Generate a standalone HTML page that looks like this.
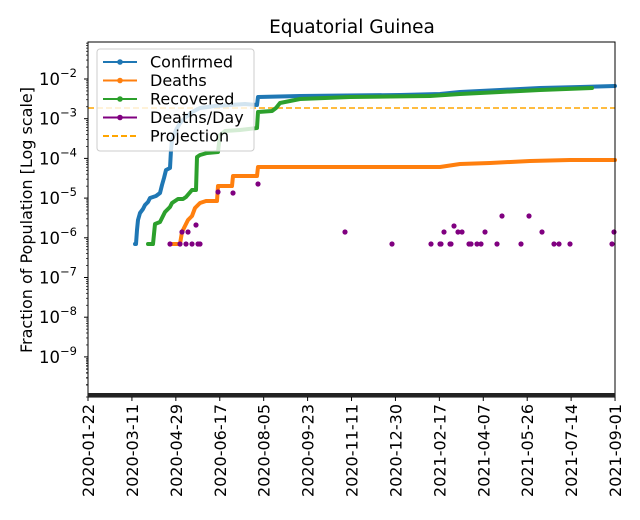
<!DOCTYPE html>
<html><head><meta charset="utf-8"><style>
html,body{margin:0;padding:0;background:#fff;width:640px;height:520px;overflow:hidden}
text{font-family:"DejaVu Sans","Liberation Sans",sans-serif;fill:#000}
</style></head><body>
<svg id="s" width="640" height="520" xmlns="http://www.w3.org/2000/svg">
<rect width="640" height="520" fill="#fff"/>
<text x="352" y="33" font-size="18.5" text-anchor="middle">Equatorial Guinea</text>
<g id="plot"></g>
<rect x="88" y="42" width="527" height="355" fill="none" stroke="#000" stroke-width="1"/>
<rect x="88" y="393" width="527" height="4" fill="#222"/>
<text transform="translate(32,220) rotate(-90)" font-size="16" text-anchor="middle">Fraction of Population [Log scale]</text>
<g id="yl" font-size="16.5"></g>
<g id="xl" font-size="16"></g>
<g id="leg"></g>
</svg>
<script>
const NS="http://www.w3.org/2000/svg";
function el(p,t,a,txt){const e=document.createElementNS(NS,t);for(const k in a)e.setAttribute(k,a[k]);if(txt!==undefined)e.textContent=txt;p.appendChild(e);return e;}
const plot=document.getElementById('plot'),yl=document.getElementById('yl'),xl=document.getElementById('xl'),leg=document.getElementById('leg');
for(let i=2;i<=9;i++){const y=79+(i-2)*39.7;
 el(plot,'line',{x1:84,x2:88,y1:y,y2:y,stroke:'#000'});
 const t=el(yl,'text',{x:39,y:y+6},'10');
 el(t,'tspan',{dy:-8,'font-size':11.5},'\u2212'+i);
 for(let m=2;m<10;m++){const yy=y+39.7-Math.log10(m)*39.7;el(plot,'line',{x1:86,x2:88,y1:yy,y2:yy,stroke:'#000','stroke-width':0.7});}
}
for(let m=2;m<10;m++){const yy=79-Math.log10(m)*39.7;if(yy>42)el(plot,'line',{x1:86,x2:88,y1:yy,y2:yy,stroke:'#000','stroke-width':0.7});}
for(let m=1;m<10;m++){const yy=397-Math.log10(m)*39.7;if(yy>357)el(plot,'line',{x1:86,x2:88,y1:yy,y2:yy,stroke:'#000','stroke-width':0.7});}
const labs=["2020-01-22","2020-03-11","2020-04-29","2020-06-17","2020-08-05","2020-09-23","2020-11-11","2020-12-30","2021-02-17","2021-04-07","2021-05-26","2021-07-14","2021-09-01"];
labs.forEach((l,i)=>{const x=88+i*43.92;el(plot,'line',{x1:x,x2:x,y1:397,y2:401,stroke:'#000'});
 el(xl,'text',{transform:`translate(${x+6},${404}) rotate(-90)`,'text-anchor':'end'},l);});
el(plot,'line',{x1:88,x2:615,y1:108,y2:108,stroke:'#ffa500','stroke-width':1.6,'stroke-dasharray':'6,3'});
function line(pts,c){el(plot,'polyline',{points:pts.map(p=>p.join(',')).join(' '),fill:'none',stroke:c,'stroke-width':4,'stroke-linejoin':'round','stroke-linecap':'round'});}
line([[135,244],[136,244],[137,230],[138,220],[140,213],[143,209],[145,205],[148,202],[150,198],[156,196],[160,193],[162,185],[164,178],[166,170],[170,168],[171,150],[172,140],[176,130],[180,123],[186,117],[192,112],[200,108],[215,106],[245,104],[257,105],[258,97],[300,96],[400,95],[440,94],[460,92],[500,90],[540,88],[580,87],[615,86]],'#1f77b4');
line([[148,244],[153,244],[155,224],[160,222],[165,212],[170,207],[172,203],[178,199],[183,199],[186,197],[192,190],[196,190],[197,157],[200,155],[207,153],[218,152],[220,135],[225,131],[240,130],[257,128],[258,112],[272,111],[276,108],[280,103],[290,101],[300,99],[350,97],[430,96],[460,94],[500,92],[540,90],[592,88]],'#2ca02c');
line([[170,244],[180,244],[182,232],[185,226],[188,220],[192,216],[195,208],[200,203],[206,201],[217,201],[218,186],[232,186],[233,176],[257,176],[258,167],[440,167],[460,164],[490,163],[530,161],[570,160],[615,160]],'#ff7f0e');
[[170,244],[180,244],[182,232],[186,244],[188,232],[192,244],[196,225],[198,244],[200,244],[218,192],[233,193],[258,184],[345,232],[392,244],[431,244],[440,244],[441,244],[444,232],[450,244],[451,244],[454,226],[458,232],[462,232],[469,244],[471,244],[477,244],[481,244],[485,232],[497,244],[502,216],[521,244],[529,216],[542,232],[554,244],[559,244],[570,244],[612,244],[614,232]].forEach(p=>el(plot,'circle',{cx:p[0],cy:p[1],r:2.6,fill:'#800080'}));
el(leg,'rect',{x:97,y:49,width:157,height:102,rx:3,fill:'#fff','fill-opacity':0.8,stroke:'#ccc'});
const items=[["Confirmed","#1f77b4"],["Deaths","#ff7f0e"],["Recovered","#2ca02c"],["Deaths/Day","#800080"],["Projection","#ffa500"]];
items.forEach((it,i)=>{const y=62+i*18.5;
 if(i<4){el(leg,'line',{x1:103,x2:137,y1:y,y2:y,stroke:it[1],'stroke-width':2});el(leg,'circle',{cx:120,cy:y,r:2.8,fill:it[1]});}
 else el(leg,'line',{x1:103,x2:137,y1:y,y2:y,stroke:it[1],'stroke-width':2,'stroke-dasharray':'6,3'});
 el(leg,'text',{x:150,y:y+5.5,'font-size':16},it[0]);});
</script>
</body></html>
